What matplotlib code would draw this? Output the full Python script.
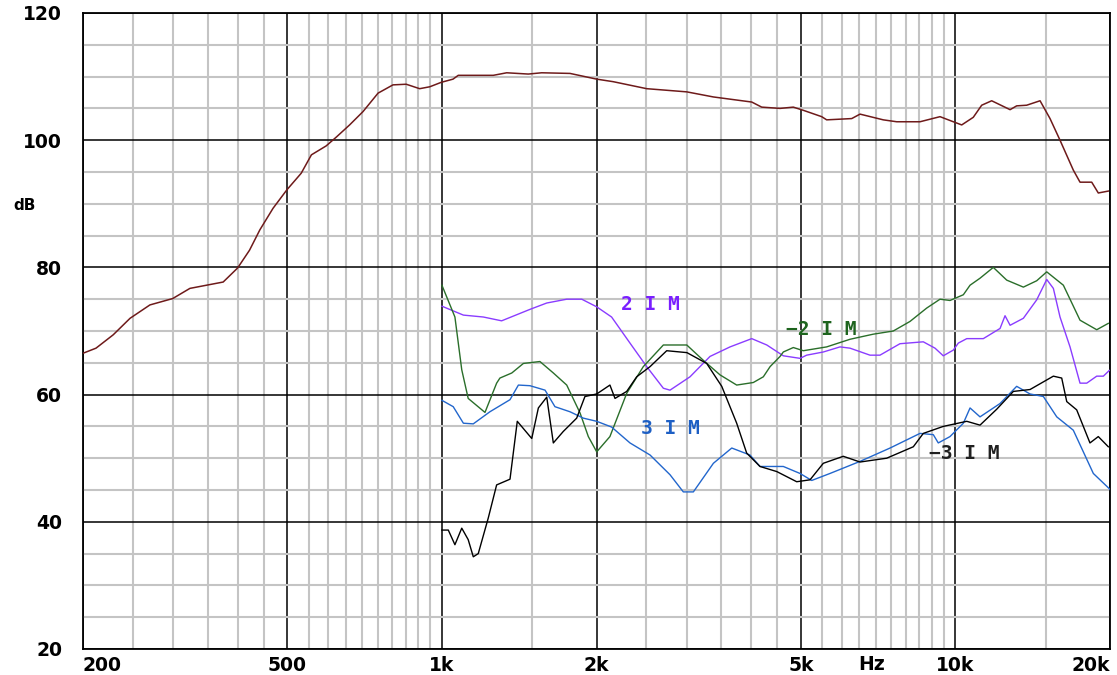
import matplotlib
matplotlib.use("Agg")
import matplotlib.pyplot as plt
import matplotlib.transforms as mtransforms
import numpy as np

# Main response (Hz, dB)
resp_f  = [200, 212, 229, 247, 270, 299, 323, 348, 375, 400, 422, 442, 469, 499,
           532, 557, 595, 623, 661, 702, 751, 803, 852, 905, 947, 997, 1051, 1076,
           1259, 1337, 1473, 1564, 1776, 2002, 2156, 2505, 2998, 3378, 4012, 4195,
           4555, 4834, 5056, 5490, 5614, 6281, 6520, 7236, 7684, 8531, 9332, 9906,
           10286, 10834, 11250, 11766, 12778, 13160, 13764, 14616, 15284, 15984,
           16966, 17484, 18426, 18978, 19848]
resp_db = [66.5, 67.3, 69.4, 72.0, 74.1, 75.1, 76.7, 77.2, 77.7, 79.9, 82.7, 85.9,
           89.3, 92.2, 94.8, 97.7, 99.1, 100.5, 102.4, 104.5, 107.4, 108.7, 108.8,
           108.1, 108.4, 109.1, 109.6, 110.2, 110.2, 110.6, 110.4, 110.6, 110.5,
           109.6, 109.2, 108.1, 107.6, 106.8, 106.0, 105.2, 105.0, 105.2, 104.7,
           103.7, 103.2, 103.4, 104.1, 103.2, 102.9, 102.9, 103.7, 102.9, 102.4,
           103.6, 105.5, 106.2, 104.8, 105.4, 105.5, 106.2, 103.4, 100.0, 95.3,
           93.4, 93.4, 91.7, 92.0]

# 2nd harmonic IM (2IM)
im2_f  = [1000, 1101, 1204, 1307, 1484, 1600, 1750, 1872, 2002, 2140, 2324, 2505,
          2699, 2781, 3042, 3327, 3640, 4012, 4292, 4622, 4982, 5132, 5530, 5960,
          6234, 6818, 7130, 7798, 8658, 9126, 9470, 9906, 10132, 10522, 11332,
          12216, 12492, 12778, 13562, 14398, 15060, 15514, 15984, 16718, 17484,
          18018, 18844, 19414, 19940]
im2_db = [73.9, 72.5, 72.2, 71.6, 73.4, 74.4, 75.0, 75.0, 73.8, 72.2, 68.1, 64.4,
          61.0, 60.7, 62.8, 66.0, 67.5, 68.8, 67.8, 66.1, 65.7, 66.2, 66.7, 67.5,
          67.3, 66.2, 66.2, 68.0, 68.3, 67.3, 66.1, 67.0, 68.1, 68.8, 68.8, 70.4,
          72.4, 70.9, 72.0, 74.9, 78.1, 76.7, 72.2, 67.5, 61.8, 61.8, 62.9, 62.9,
          63.8]

# -2IM
im2n_f  = [1000, 1060, 1093, 1125, 1213, 1278, 1297, 1368, 1441, 1552, 1648, 1750,
           1858, 1928, 2002, 2124, 2290, 2467, 2699, 2998, 3228, 3480, 3750, 4040,
           4226, 4356, 4555, 4622, 4834, 5056, 5614, 6234, 6918, 7568, 8156, 8790,
           9332, 9760, 10362, 10678, 11166, 11852, 12586, 13562, 14398, 15060,
           16226, 17484, 18844, 19848]
im2n_db = [77.2, 72.2, 63.9, 59.4, 57.2, 61.8, 62.6, 63.4, 64.9, 65.2, 63.4, 61.5,
           57.1, 53.4, 51.0, 53.4, 60.2, 64.4, 67.8, 67.8, 65.4, 63.1, 61.5, 61.9,
           62.8, 64.4, 66.0, 66.7, 67.4, 66.9, 67.5, 68.7, 69.5, 70.0, 71.5, 73.6,
           75.0, 74.8, 75.7, 77.2, 78.3, 80.0, 78.0, 76.9, 77.9, 79.3, 77.2, 71.7,
           70.2, 71.2]

# 3IM
im3_f  = [1000, 1052, 1101, 1151, 1240, 1357, 1409, 1484, 1588, 1660, 1776, 1885,
          2002, 2140, 2324, 2543, 2781, 2952, 3088, 3378, 3668, 3980, 4163, 4622,
          4982, 5250, 5698, 6520, 7460, 8531, 9056, 9260, 9760, 10362, 10678, 11166,
          12216, 13160, 13974, 14834, 15752, 16966, 18560, 20000]
im3_db = [59.1, 58.1, 55.5, 55.4, 57.3, 59.2, 61.5, 61.4, 60.7, 58.1, 57.3, 56.3,
          55.8, 54.9, 52.4, 50.5, 47.4, 44.7, 44.7, 49.2, 51.6, 50.5, 48.7, 48.7,
          47.6, 46.5, 47.6, 49.5, 51.6, 53.9, 53.7, 52.4, 53.4, 55.5, 57.9, 56.5,
          58.6, 61.3, 60.1, 59.7, 56.5, 54.4, 47.6, 45.1]

# -3IM
im3n_f  = [1000, 1029, 1060, 1093, 1125, 1151, 1177, 1231, 1278, 1357, 1402, 1496,
           1541, 1600, 1648, 1723, 1830, 1899, 2002, 2124, 2173, 2290, 2395, 2543,
           2740, 3000, 3278, 3507, 3750, 3922, 4163, 4488, 4908, 5210, 5530, 6048,
           6520, 7348, 8280, 8658, 9470, 10522, 11166, 12034, 12966, 13974, 14834,
           15514, 16106, 16474, 17226, 18282, 18978, 19848]
im3n_db = [38.7, 38.7, 36.4, 39.0, 37.2, 34.5, 35.0, 40.6, 45.8, 46.7, 55.8, 53.1,
           57.9, 59.6, 52.4, 54.2, 56.3, 59.7, 60.1, 61.5, 59.4, 60.5, 62.8, 64.4,
           66.9, 66.6, 64.9, 61.3, 55.5, 50.8, 48.7, 47.9, 46.3, 46.6, 49.2, 50.3,
           49.4, 50.0, 51.8, 53.9, 55.0, 55.8, 55.2, 57.7, 60.5, 60.8, 62.0, 62.9,
           62.6, 58.9, 57.6, 52.4, 53.4, 51.8]

x_ticks  = [200, 500, 1000, 2000, 5000, 10000, 20000]
x_labels = ["200", "500", "1k", "2k", "5k", "10k", "20k"]
y_ticks  = [20, 40, 60, 80, 100, 120]
x_minor  = ([250, 300, 350, 400, 450] + list(range(550, 1000, 50)) + [1500]
            + [2500, 3000, 3500, 4000, 4500] + list(range(5500, 10000, 500)) + [15000])
y_minor  = [v for v in range(25, 120, 5) if v % 20 != 0]

fig = plt.figure(figsize=(11.17, 6.75), dpi=100)
ax = fig.add_axes([83 / 1117, 26 / 675, 1027 / 1117, 636 / 675])
ax.set_xscale("log")
ax.set_xlim(200, 20000)
ax.set_ylim(20, 120)

ax.set_xticks(x_ticks)
ax.set_xticklabels(x_labels)
ax.set_xticks(x_minor, minor=True)
ax.set_yticks(y_ticks)
ax.set_yticks(y_minor, minor=True)
ax.xaxis.set_minor_formatter(matplotlib.ticker.NullFormatter())
ax.tick_params(which="both", length=0)
ax.tick_params(axis="y", pad=15)
ax.tick_params(axis="x", pad=5)
for lbl in ax.get_xticklabels() + ax.get_yticklabels():
    lbl.set_fontsize(13.5)
    lbl.set_fontweight("bold")
xl = ax.get_xticklabels()
xl[0].set_ha("left")
xl[-1].set_ha("right")

ax.grid(which="minor", color="#c4c4c4", lw=1.5, zorder=0)
ax.grid(which="major", color="black", lw=1.1, zorder=1)
for s in ax.spines.values():
    s.set_color("black")
    s.set_linewidth(1.3)
ax.set_axisbelow(True)

ax.plot(resp_f, resp_db, color="#6e1a1a", lw=1.1, zorder=3)
ax.plot(im2_f, im2_db, color="#8a3cff", lw=1.0, zorder=3)
ax.plot(im2n_f, im2n_db, color="#2a6e2a", lw=1.0, zorder=3)
ax.plot(im3_f, im3_db, color="#2266cc", lw=1.0, zorder=3)
ax.plot(im3n_f, im3n_db, color="black", lw=1.0, zorder=3)

lab = dict(family="DejaVu Sans Mono", fontweight="bold", fontsize=14, va="center")
ax.text(2230, 74.1, "2 I M", color="#7a1fff", ha="left", **lab)
ax.text(4680, 70.2, "\u22122 I M", color="#1e641e", ha="left", **lab)
ax.text(2440, 54.6, "3 I M", color="#1d5fc4", ha="left", **lab)
ax.text(8900, 50.7, "\u22123 I M", color="#202020", ha="left", **lab)

trans = mtransforms.blended_transform_factory(ax.transData, ax.transAxes)
ax.text(6880, -0.024, "Hz", transform=trans, ha="center", va="center",
        fontsize=13.5, fontweight="bold")
fig.text(25 / 1117, 1 - 205 / 675, "dB", ha="center", va="center",
         fontsize=11, fontweight="bold")

fig.savefig("out.png", dpi=100)
